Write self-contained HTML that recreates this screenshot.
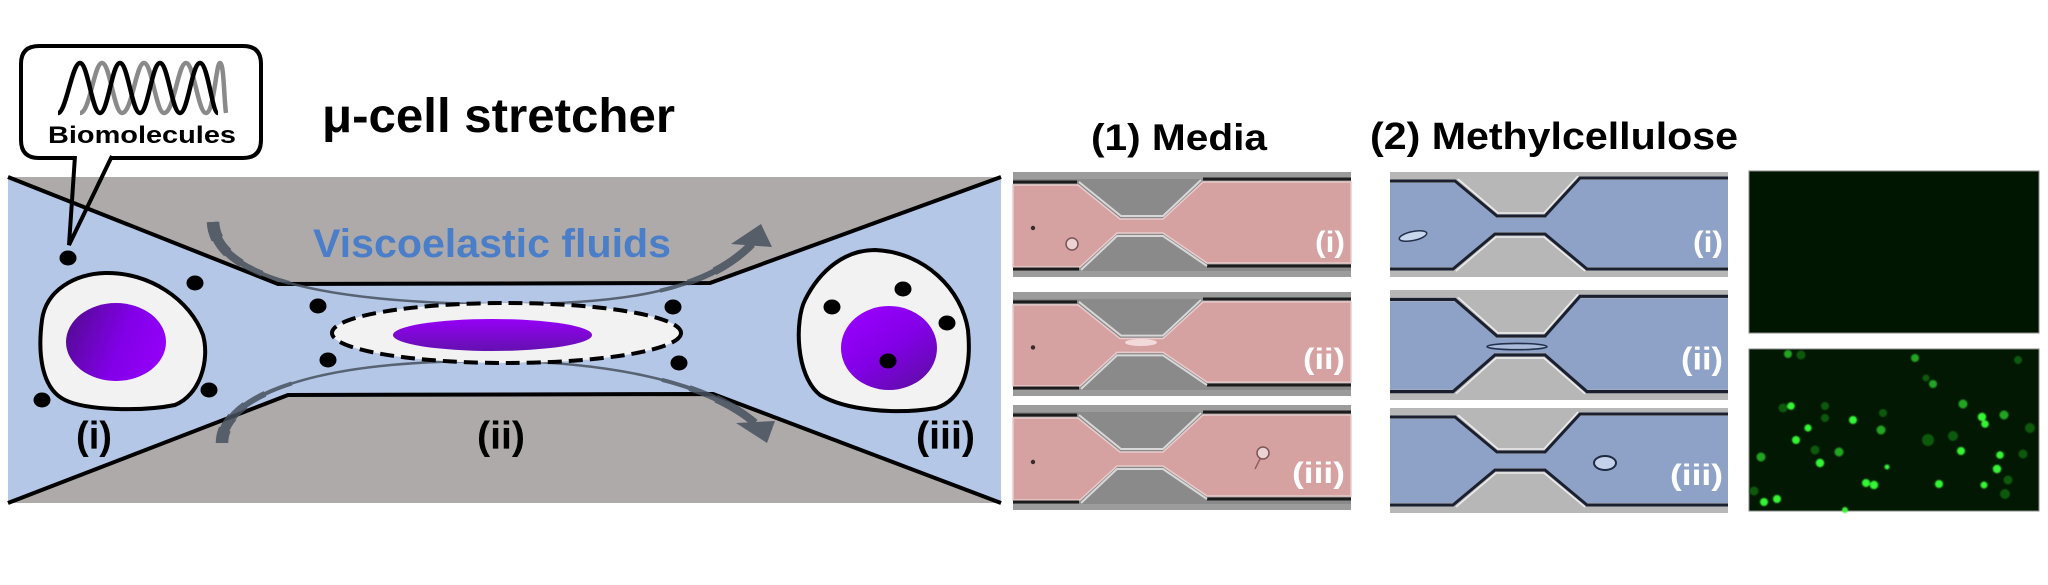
<!DOCTYPE html>
<html>
<head>
<meta charset="utf-8">
<style>
  html,body{margin:0;padding:0;background:#fff;}
  svg{display:block;}
  text{font-family:"Liberation Sans",Arial,sans-serif;font-weight:bold;}
</style>
</head>
<body>
<svg width="2048" height="585" viewBox="0 0 2048 585" xmlns="http://www.w3.org/2000/svg">
  <defs>
    <linearGradient id="nucI" x1="0" y1="0.35" x2="1" y2="0.65">
      <stop offset="0" stop-color="#560a98"/>
      <stop offset="0.55" stop-color="#8200e8"/>
      <stop offset="1" stop-color="#9400f8"/>
    </linearGradient>
    <linearGradient id="nucII" x1="0" y1="0" x2="0" y2="1">
      <stop offset="0" stop-color="#9600f6"/>
      <stop offset="1" stop-color="#6410b0"/>
    </linearGradient>
    <linearGradient id="nucIII" x1="0.15" y1="0" x2="0.9" y2="1">
      <stop offset="0" stop-color="#9a00ff"/>
      <stop offset="0.5" stop-color="#8200e6"/>
      <stop offset="1" stop-color="#5c0ea2"/>
    </linearGradient>
    <filter id="gb" x="-50%" y="-50%" width="200%" height="200%">
      <feGaussianBlur stdDeviation="0.9"/>
    </filter>
  </defs>

  <!-- ===== LEFT SCHEMATIC ===== -->
  <rect x="8" y="177" width="993" height="326" fill="#aeaaa9"/>
  <polygon points="8,177 278,284 710,283 1001,177 1001,503 713,394 288,395 8,503" fill="#b4c7e7"/>
  <polyline points="8,177 278,284 710,283 1001,177" fill="none" stroke="#000" stroke-width="4" stroke-linejoin="miter"/>
  <polyline points="8,503 288,395 713,394 1001,503" fill="none" stroke="#000" stroke-width="4"/>

  <!-- flow arrows -->
  <g opacity="0.85" fill="none" stroke="#47515e">
    <path d="M213,222 C215,265 280,300 480,304 C620,306 705,292 752,244" stroke-width="2.5" pathLength="100"/>
    <path d="M213,222 C215,265 280,300 480,304 C620,306 705,292 752,244" stroke-width="4" pathLength="100" stroke-dasharray="18 64 18 100"/>
    <path d="M213,222 C215,265 280,300 480,304 C620,306 705,292 752,244" stroke-width="6" pathLength="100" stroke-dasharray="13 74 13 100"/>
    <path d="M213,222 C215,265 280,300 480,304 C620,306 705,292 752,244" stroke-width="8" pathLength="100" stroke-dasharray="9 83 8 100"/>
    <path d="M213,222 C215,265 280,300 480,304 C620,306 705,292 752,244" stroke-width="10" pathLength="100" stroke-dasharray="6 200"/>
    <path d="M213,222 C215,265 280,300 480,304 C620,306 705,292 752,244" stroke-width="12.5" pathLength="100" stroke-dasharray="3 200"/>

    <path d="M222,443 C222,400 300,362 480,361 C600,360 705,380 755,423" stroke-width="2.5" pathLength="100"/>
    <path d="M222,443 C222,400 300,362 480,361 C600,360 705,380 755,423" stroke-width="4" pathLength="100" stroke-dasharray="17 65 18 100"/>
    <path d="M222,443 C222,400 300,362 480,361 C600,360 705,380 755,423" stroke-width="6" pathLength="100" stroke-dasharray="12 75 13 100"/>
    <path d="M222,443 C222,400 300,362 480,361 C600,360 705,380 755,423" stroke-width="8" pathLength="100" stroke-dasharray="8 84 8 100"/>
    <path d="M222,443 C222,400 300,362 480,361 C600,360 705,380 755,423" stroke-width="10" pathLength="100" stroke-dasharray="5 200"/>
    <path d="M222,443 C222,400 300,362 480,361 C600,360 705,380 755,423" stroke-width="12.5" pathLength="100" stroke-dasharray="2.5 200"/>
    <polygon points="761,224 731,244 772,247" fill="#47515e" stroke="none"/>
    <polygon points="767,443 736,423 775,421" fill="#47515e" stroke="none"/>
  </g>

  <!-- cell (i) -->
  <path d="M105,273 C150,272 190,300 203,335 C210,360 200,395 175,405 C140,412 85,410 65,400 C40,388 38,350 42,320 C46,290 75,274 105,273 Z" fill="#f2f2f2" stroke="#000" stroke-width="4"/>
  <ellipse cx="116" cy="342" rx="50" ry="39" fill="url(#nucI)"/>
  <ellipse cx="68" cy="258" rx="8.5" ry="7.5" fill="#000"/>
  <ellipse cx="195" cy="283" rx="8.5" ry="7.5" fill="#000"/>
  <ellipse cx="42" cy="400" rx="8.5" ry="7.5" fill="#000"/>
  <ellipse cx="209" cy="390" rx="8.5" ry="7.5" fill="#000"/>

  <!-- cell (ii) -->
  <ellipse cx="506.5" cy="333" rx="174.5" ry="30" fill="#f2f2f2" stroke="#000" stroke-width="4" stroke-dasharray="14 7"/>
  <ellipse cx="492.5" cy="335" rx="99.5" ry="16" fill="url(#nucII)"/>
  <ellipse cx="318" cy="306" rx="8.5" ry="7.5" fill="#000"/>
  <ellipse cx="328" cy="360" rx="8.5" ry="7.5" fill="#000"/>
  <ellipse cx="673" cy="307" rx="8.5" ry="7.5" fill="#000"/>
  <ellipse cx="679" cy="363" rx="8.5" ry="7.5" fill="#000"/>

  <!-- cell (iii) -->
  <path d="M875,250 C925,252 962,290 968,330 C972,370 962,400 936,408 C895,415 845,410 820,395 C795,375 795,320 805,300 C820,270 845,250 875,250 Z" fill="#f2f2f2" stroke="#000" stroke-width="4"/>
  <ellipse cx="889" cy="348" rx="48" ry="42" fill="url(#nucIII)"/>
  <ellipse cx="832" cy="307" rx="8.5" ry="7.5" fill="#000"/>
  <ellipse cx="903" cy="289" rx="8.5" ry="7.5" fill="#000"/>
  <ellipse cx="947" cy="323" rx="8.5" ry="7.5" fill="#000"/>
  <ellipse cx="888" cy="361" rx="8.5" ry="7.5" fill="#000"/>

  <!-- labels in schematic -->
  <text x="313" y="257" font-size="40" fill="#4a7ec8" textLength="358" lengthAdjust="spacingAndGlyphs">Viscoelastic fluids</text>
  <text x="76" y="449" font-size="39" fill="#000" textLength="36" lengthAdjust="spacingAndGlyphs">(i)</text>
  <text x="477" y="449" font-size="39" fill="#000" textLength="48" lengthAdjust="spacingAndGlyphs">(ii)</text>
  <text x="916" y="449" font-size="39" fill="#000" textLength="59" lengthAdjust="spacingAndGlyphs">(iii)</text>

  <!-- callout bubble -->
  <path d="M75,158 L39,158 Q21,158 21,140 L21,64 Q21,46 39,46 L243,46 Q261,46 261,64 L261,140 Q261,158 243,158 L112,158" fill="#fff" stroke="#000" stroke-width="4"/>
  <polyline points="75,156 69,245 112,156" fill="none" stroke="#000" stroke-width="4" stroke-linejoin="miter"/>
  <path d="M80,113 C90,113 94,63 102,63 C110,63 114,113 122,113 C132,113 136,63 144,63 C152,63 156,113 164,113 C174,113 178,63 186,63 C194,63 198,113 206,113 C214,113 216,63 220,63 C224,63 224,100 226,113" fill="none" stroke="#8a8a8a" stroke-width="4.5"/>
  <path d="M58,113 C66,113 72,63 80,63 C88,63 92,113 100,113 C108,113 112,63 120,63 C128,63 132,113 140,113 C148,113 152,63 160,63 C168,63 172,113 180,113 C188,113 192,63 200,63 C208,63 212,113 218,113" fill="none" stroke="#000" stroke-width="4.5"/>
  <text x="48" y="143" font-size="24" fill="#000" textLength="188" lengthAdjust="spacingAndGlyphs">Biomolecules</text>

  <!-- title -->
  <text x="322" y="132" font-size="48" fill="#000" textLength="353" lengthAdjust="spacingAndGlyphs">μ-cell stretcher</text>

  <!-- ===== MEDIA PANELS ===== -->
  <text x="1091" y="150" font-size="37" fill="#000" textLength="176" lengthAdjust="spacingAndGlyphs">(1) Media</text>
  <text x="1370" y="149" font-size="38" fill="#000" textLength="368" lengthAdjust="spacingAndGlyphs">(2) Methylcellulose</text>

  <!-- media panel 1 -->
  <g transform="translate(1013,172)">
    <rect width="338" height="105" fill="#8a8a8a"/>
    <rect width="338" height="7" fill="#9c9c9c"/>
    <rect y="99" width="338" height="6" fill="#9c9c9c"/>
    <polygon points="0,13 65,13 107,47 150,47 190,10 338,10 338,91 194,91 150,61 104,61 67,95 0,95" fill="#d6a1a1" stroke="#e9cccc" stroke-width="1.5"/>
    <polyline points="0,10 64,10" stroke="#1c1c1c" stroke-width="3" fill="none"/>
    <polyline points="190,7 338,7" stroke="#1c1c1c" stroke-width="3" fill="none"/>
    <polyline points="0,97 66,97" stroke="#1c1c1c" stroke-width="3" fill="none"/>
    <polyline points="194,94 338,94" stroke="#1c1c1c" stroke-width="3" fill="none"/>
    <polyline points="66,10 108,44 150,44 188,8" stroke="#d8d8d8" stroke-width="2" fill="none"/>
    <polyline points="68,98 104,64 150,64 194,94" stroke="#d8d8d8" stroke-width="2" fill="none"/>
    <circle cx="20" cy="56" r="2.2" fill="#3a2a2a"/>
    <circle cx="59" cy="72" r="6" fill="#ecd2d2" stroke="#7a5555" stroke-width="1.5"/>
    <text x="332" y="80" font-size="30" fill="#fff" text-anchor="end" textLength="30" lengthAdjust="spacingAndGlyphs">(i)</text>
  </g>
  <!-- media panel 2 -->
  <g transform="translate(1013,292) scale(1,0.99)">
    <rect width="338" height="105" fill="#8a8a8a"/>
    <rect width="338" height="7" fill="#9c9c9c"/>
    <rect y="99" width="338" height="6" fill="#9c9c9c"/>
    <polygon points="0,13 65,13 107,47 150,47 190,10 338,10 338,91 194,91 150,61 104,61 67,95 0,95" fill="#d6a1a1" stroke="#e9cccc" stroke-width="1.5"/>
    <polyline points="0,10 64,10" stroke="#1c1c1c" stroke-width="3" fill="none"/>
    <polyline points="190,7 338,7" stroke="#1c1c1c" stroke-width="3" fill="none"/>
    <polyline points="0,97 66,97" stroke="#1c1c1c" stroke-width="3" fill="none"/>
    <polyline points="194,94 338,94" stroke="#1c1c1c" stroke-width="3" fill="none"/>
    <polyline points="66,10 108,44 150,44 188,8" stroke="#d8d8d8" stroke-width="2" fill="none"/>
    <polyline points="68,98 104,64 150,64 194,94" stroke="#d8d8d8" stroke-width="2" fill="none"/>
    <circle cx="20" cy="56" r="2.2" fill="#3a2a2a"/>
    <ellipse cx="128" cy="51" rx="16" ry="3.5" fill="#f3dada"/>
    <text x="332" y="78" font-size="30" fill="#fff" text-anchor="end" textLength="42" lengthAdjust="spacingAndGlyphs">(ii)</text>
  </g>
  <!-- media panel 3 -->
  <g transform="translate(1013,405)">
    <rect width="338" height="105" fill="#8a8a8a"/>
    <rect width="338" height="7" fill="#9c9c9c"/>
    <rect y="99" width="338" height="6" fill="#9c9c9c"/>
    <polygon points="0,13 65,13 107,47 150,47 190,10 338,10 338,91 194,91 150,61 104,61 67,95 0,95" fill="#d6a1a1" stroke="#e9cccc" stroke-width="1.5"/>
    <polyline points="0,10 64,10" stroke="#1c1c1c" stroke-width="3" fill="none"/>
    <polyline points="190,7 338,7" stroke="#1c1c1c" stroke-width="3" fill="none"/>
    <polyline points="0,97 66,97" stroke="#1c1c1c" stroke-width="3" fill="none"/>
    <polyline points="194,94 338,94" stroke="#1c1c1c" stroke-width="3" fill="none"/>
    <polyline points="66,10 108,44 150,44 188,8" stroke="#d8d8d8" stroke-width="2" fill="none"/>
    <polyline points="68,98 104,64 150,64 194,94" stroke="#d8d8d8" stroke-width="2" fill="none"/>
    <circle cx="20" cy="57" r="2.2" fill="#3a2a2a"/>
    <path d="M248,52 L242,64" stroke="#8a6060" stroke-width="1.5"/>
    <circle cx="250" cy="48" r="6" fill="#ecd2d2" stroke="#7a5555" stroke-width="1.5"/>
    <text x="332" y="78" font-size="30" fill="#fff" text-anchor="end" textLength="53" lengthAdjust="spacingAndGlyphs">(iii)</text>
  </g>

  <!-- ===== METHYLCELLULOSE PANELS ===== -->
  <g transform="translate(1390,172)">
    <rect width="338" height="105" fill="#b7b7b7"/>
    <polygon points="0,11 65,11 107,46 155,46 190,8 338,8 338,95 197,95 155,60 105,60 63,95 0,95" fill="#8ea2c7"/>
    <polyline points="0,9 65,9 107,44 155,44 190,6 338,6" stroke="#1a2030" stroke-width="3" fill="none"/>
    <polyline points="0,97 63,97 105,62 155,62 197,97 338,97" stroke="#1a2030" stroke-width="3" fill="none"/>
    <polyline points="68,7 108,41 154,41 188,4" stroke="#ececec" stroke-width="1.5" fill="none"/>
    <polyline points="66,99 106,65 154,65 195,99" stroke="#ececec" stroke-width="1.5" fill="none"/>
    <ellipse cx="23" cy="64" rx="14" ry="4.5" fill="#c9d7ee" stroke="#22304c" stroke-width="1.5" transform="rotate(-12 23 64)"/>
    <text x="333" y="80" font-size="30" fill="#fff" text-anchor="end" textLength="30" lengthAdjust="spacingAndGlyphs">(i)</text>
  </g>
  <g transform="translate(1390,290) scale(1,1.0476)">
    <rect width="338" height="105" fill="#b7b7b7"/>
    <polygon points="0,11 65,11 107,46 155,46 190,8 338,8 338,95 197,95 155,60 105,60 63,95 0,95" fill="#8ea2c7"/>
    <polyline points="0,9 65,9 107,44 155,44 190,6 338,6" stroke="#1a2030" stroke-width="3" fill="none"/>
    <polyline points="0,97 63,97 105,62 155,62 197,97 338,97" stroke="#1a2030" stroke-width="3" fill="none"/>
    <polyline points="68,7 108,41 154,41 188,4" stroke="#ececec" stroke-width="1.5" fill="none"/>
    <polyline points="66,99 106,65 154,65 195,99" stroke="#ececec" stroke-width="1.5" fill="none"/>
    <ellipse cx="127" cy="54" rx="30" ry="3" fill="#aabbdc" stroke="#22304c" stroke-width="1.5"/>
    <text x="333" y="76" font-size="30" fill="#fff" text-anchor="end" textLength="42" lengthAdjust="spacingAndGlyphs">(ii)</text>
  </g>
  <g transform="translate(1390,408)">
    <rect width="338" height="105" fill="#b7b7b7"/>
    <polygon points="0,11 65,11 107,46 155,46 190,8 338,8 338,95 197,95 155,60 105,60 63,95 0,95" fill="#8ea2c7"/>
    <polyline points="0,9 65,9 107,44 155,44 190,6 338,6" stroke="#1a2030" stroke-width="3" fill="none"/>
    <polyline points="0,97 63,97 105,62 155,62 197,97 338,97" stroke="#1a2030" stroke-width="3" fill="none"/>
    <polyline points="68,7 108,41 154,41 188,4" stroke="#ececec" stroke-width="1.5" fill="none"/>
    <polyline points="66,99 106,65 154,65 195,99" stroke="#ececec" stroke-width="1.5" fill="none"/>
    <ellipse cx="215" cy="55" rx="11" ry="7" fill="#c3d2ea" stroke="#1e2a40" stroke-width="2"/>
    <text x="333" y="77" font-size="30" fill="#fff" text-anchor="end" textLength="53" lengthAdjust="spacingAndGlyphs">(iii)</text>
  </g>

  <!-- ===== FLUORESCENCE PANELS ===== -->
  <rect x="1749" y="171" width="290" height="162" fill="#011600" stroke="#8a8a8a" stroke-width="1"/>
  <rect x="1749" y="349" width="290" height="162" fill="#021802" stroke="#8a8a8a" stroke-width="1"/>
  <g filter="url(#gb)">
    <g fill="#0f5a0f">
      <circle cx="1801" cy="355" r="4.5"/>
      <circle cx="1783" cy="408" r="4.5"/>
      <circle cx="1825" cy="406" r="4"/>
      <circle cx="1825" cy="418" r="4"/>
      <circle cx="1883" cy="413" r="4"/>
      <circle cx="2030" cy="428" r="5"/>
      <circle cx="1928" cy="440" r="6"/>
      <circle cx="1953" cy="436" r="5"/>
      <circle cx="1815" cy="450" r="4.5"/>
      <circle cx="2023" cy="454" r="4.5"/>
      <circle cx="2008" cy="480" r="4.5"/>
      <circle cx="1754" cy="491" r="4.5"/>
      <circle cx="2005" cy="494" r="5"/>
      <circle cx="2018" cy="360" r="4"/>
      <circle cx="1926" cy="378" r="3.5"/>
    </g>
    <g fill="#22a522">
      <circle cx="1915" cy="358" r="4"/>
      <circle cx="1933" cy="384" r="4"/>
      <circle cx="1963" cy="404" r="4.5"/>
      <circle cx="2004" cy="415" r="4.5"/>
      <circle cx="1881" cy="430" r="4.5"/>
      <circle cx="1839" cy="452" r="4.5"/>
      <circle cx="1761" cy="457" r="4.5"/>
      <circle cx="1788" cy="354" r="4"/>
    </g>
    <g fill="#35f535">
      <circle cx="1791" cy="406" r="3.8"/>
      <circle cx="1982" cy="417" r="4.2"/>
      <circle cx="1985" cy="424" r="3.8"/>
      <circle cx="1853" cy="420" r="4"/>
      <circle cx="1808" cy="428" r="3.6"/>
      <circle cx="1796" cy="440" r="4"/>
      <circle cx="1961" cy="451" r="4"/>
      <circle cx="2000" cy="455" r="3.8"/>
      <circle cx="1820" cy="463" r="4.2"/>
      <circle cx="1887" cy="467" r="2.5"/>
      <circle cx="1997" cy="469" r="4.2"/>
      <circle cx="1866" cy="483" r="4"/>
      <circle cx="1874" cy="485" r="4.2"/>
      <circle cx="1939" cy="484" r="4"/>
      <circle cx="1984" cy="485" r="3.5"/>
      <circle cx="1777" cy="499" r="4"/>
      <circle cx="1764" cy="502" r="4"/>
      <circle cx="1845" cy="510" r="3"/>
    </g>
  </g>
</svg>
</body>
</html>
